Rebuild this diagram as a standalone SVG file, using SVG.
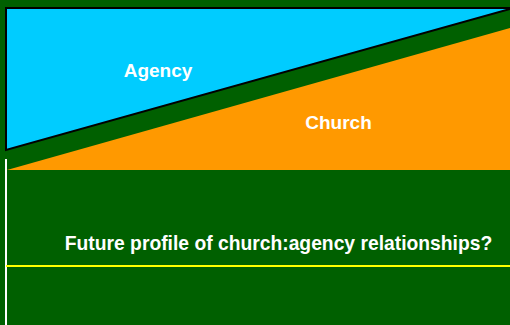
<svg xmlns="http://www.w3.org/2000/svg" width="510" height="325" viewBox="0 0 510 325">
  <style>
    .label { font-family: "Liberation Sans", Arial, sans-serif; font-weight: bold; fill: #ffffff; text-anchor: middle; font-size: 19px; }
  </style>
  <rect x="0" y="0" width="510" height="325" fill="#006000"/>
  <g id="church">
    <polygon points="7,170 510,28 510,170" fill="#ff9900"/>
    <text class="label" x="338.5" y="129">Church</text>
  </g>
  <g id="agency">
    <polygon points="6,8 510,8 510,9 6,150" fill="#00ccff" stroke="#000000" stroke-width="2" stroke-linejoin="miter"/>
    <text class="label" x="158" y="77">Agency</text>
  </g>
  <g id="axes">
    <line x1="6" y1="159" x2="6" y2="325" stroke="#ffffff" stroke-width="2"/>
    <line x1="6" y1="266" x2="510" y2="266" stroke="#ffff00" stroke-width="2"/>
  </g>
  <g id="caption">
    <text class="label" x="278.5" y="250" style="font-size:19.3px">Future profile of church:agency relationships?</text>
  </g>
</svg>
